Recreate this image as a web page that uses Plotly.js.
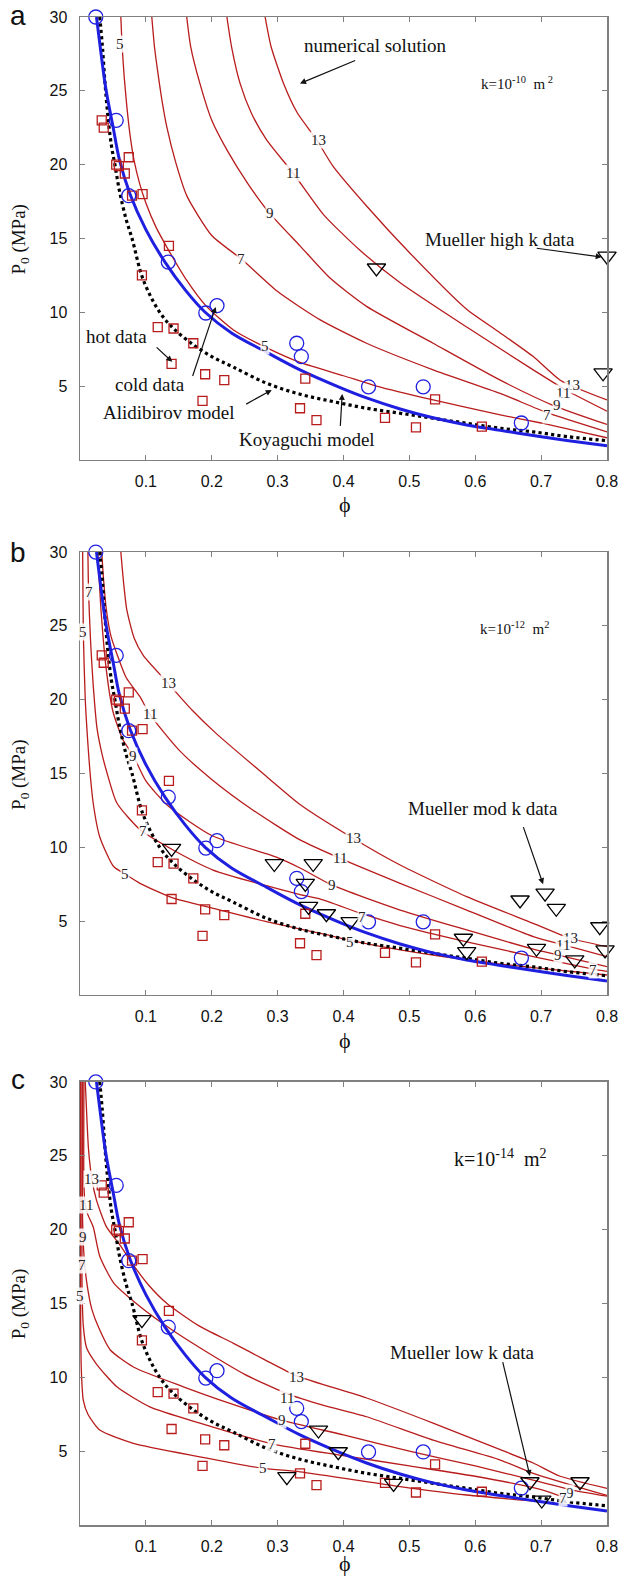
<!DOCTYPE html>
<html><head><meta charset="utf-8">
<script src="https://cdn.plot.ly/plotly-3.0.1.min.js"></script>
<style>body{margin:0;background:#fff}</style>
</head><body><div id="chart" style="width:622px;height:1582px"></div>
<script>
const xTicks = [0.1,0.2,0.3,0.4,0.5,0.6,0.7,0.8];
const xTickText = ['0.1','0.2','0.3','0.4','0.5','0.6','0.7','0.8'];
const yTicks = [5,10,15,20,25,30];

// hot data (squares) - same in all panels
const hotPhi = [0.033,0.036,0.055,0.059,0.074,0.068,0.079,0.095,0.135,0.094,0.118,0.142,0.172,0.139,0.190,0.219,0.186,0.342,0.334,0.359,0.463,0.510,0.539,0.610,0.801];
const hotP   = [23.0,22.5,20.0,19.9,20.5,19.4,17.9,18.0,14.5,12.5,9.0,8.9,7.9,6.5,5.8,5.4,4.0,5.5,3.5,2.7,2.85,2.2,4.1,2.25,1.75];
// cold data (circles)
const coldPhi = [0.024,0.055,0.074,0.134,0.191,0.208,0.329,0.336,0.438,0.521,0.670];
const coldP   = [30.0,23.0,17.9,13.4,9.95,10.45,7.9,7.0,4.95,4.95,2.5];
// Koyaguchi model (blue)
const koyaPhi = [0.025,0.032,0.038,0.043,0.05,0.06,0.076,0.1,0.129,0.16,0.19,0.23,0.283,0.334,0.395,0.435,0.486,0.536,0.587,0.638,0.688,0.739,0.8];
const koyaP   = [30,27.5,25.5,24.2,22.6,20.3,18.0,15.6,13.4,11.5,10.0,8.6,7.3,6.1,4.9,4.2,3.45,2.85,2.37,2.0,1.65,1.32,0.95];
// Alidibirov model (dotted)
const alidPhi = [0.030,0.034,0.038,0.043,0.048,0.053,0.060,0.070,0.079,0.096,0.121,0.142,0.172,0.200,0.232,0.283,0.334,0.384,0.435,0.486,0.536,0.587,0.638,0.688,0.739,0.8];
const alidP   = [30,28,25.5,23,21.2,20,18.2,16.3,15,12.2,10,8.9,7.8,7.0,6.3,5.2,4.45,3.95,3.5,3.16,2.82,2.48,2.14,1.9,1.58,1.3];

// Mueller data (triangles)
const muelHighPhi = [0.45,0.80,0.794];
const muelHighP   = [13.0,13.8,5.9];
const muelModPhi = [0.139,0.295,0.354,0.342,0.347,0.374,0.41,0.582,0.587,0.668,0.706,0.723,0.693,0.751,0.789,0.797];
const muelModP   = [9.93,8.9,8.9,7.56,6.0,5.5,4.96,3.84,2.93,6.43,6.89,5.87,3.16,2.37,4.62,3.05];
const muelLowPhi = [0.094,0.314,0.362,0.392,0.476,0.683,0.701,0.759];
const muelLowP   = [13.9,3.27,6.43,4.96,2.82,2.93,1.69,2.93];

// panel a numerical solution (k=1e-10)
const a5x = [0.062,0.064,0.067,0.071,0.076,0.082,0.09,0.1,0.115,0.132,0.16,0.192,0.233,0.283,0.334,0.4,0.45,0.536,0.638,0.7,0.75,0.8];
const a5y = [30,28,26,24,22,20.3,18.8,17.4,15.8,14.4,12.3,10.4,8.8,7.6,6.6,5.7,5.0,4.06,3.05,2.5,2.0,1.5];
const a7x = [0.109,0.113,0.118,0.125,0.132,0.145,0.162,0.2,0.245,0.3,0.364,0.435,0.536,0.638,0.709,0.8];
const a7y = [30,28,26.3,24.2,22.5,20.2,17.9,15.2,13.6,11.4,9.5,7.9,6.1,4.5,3.2,1.9];
const a9x = [0.162,0.168,0.182,0.2,0.223,0.255,0.288,0.334,0.38,0.435,0.536,0.638,0.718,0.8];
const a9y = [30,28,25.5,23,21.0,18.7,16.7,14.5,12.3,10.4,7.9,5.4,3.7,2.4];
const a11x = [0.223,0.23,0.243,0.26,0.283,0.324,0.37,0.425,0.486,0.587,0.688,0.739,0.8];
const a11y = [30,28,25.5,23.5,21.7,19.4,16.6,14.2,12.0,9.0,6.1,4.7,3.3];
const a13x = [0.281,0.29,0.309,0.33,0.359,0.384,0.435,0.501,0.587,0.638,0.688,0.729,0.8];
const a13y = [30,28,25.5,23.5,21.7,19.9,17.2,14.0,10.2,8.6,7.0,5.4,4.06];
// panel b numerical solution (k=1e-12)
const b5x = [0.004,0.005,0.008,0.012,0.015,0.02,0.03,0.051,0.068,0.091,0.142,0.202,0.283,0.364,0.41,0.486,0.587,0.688,0.8];
const b5y = [30,24.6,20,17,15.2,13,10.7,8.7,8.2,7.56,6.55,5.87,4.96,4.18,3.7,3.05,2.37,1.85,1.35];
const b7x = [0.012,0.013,0.016,0.02,0.026,0.033,0.040,0.056,0.091,0.142,0.202,0.283,0.334,0.364,0.428,0.486,0.587,0.688,0.779,0.8];
const b7y = [30,27.3,24,21,18,16.4,15.2,13,11.2,9.8,8.46,7.4,6.8,6.5,5.5,4.7,3.6,2.6,1.75,1.6];
const b9x = [0.027,0.032,0.04,0.05,0.065,0.081,0.1,0.134,0.2,0.3,0.334,0.382,0.486,0.587,0.688,0.726,0.8];
const b9y = [30,26,22,19.2,17.3,16.2,14.5,12.8,10.8,9.3,8.6,7.45,5.75,4.4,3.1,2.7,1.92];
const b11x = [0.033,0.036,0.040,0.047,0.056,0.07,0.091,0.106,0.15,0.2,0.26,0.334,0.395,0.486,0.587,0.688,0.733,0.8];
const b11y = [30,28,26.1,24.3,23.1,21.5,20.2,19.0,16.6,14.6,12.6,10.5,9.25,7.56,5.75,3.95,3.4,2.6];
const b13x = [0.062,0.066,0.071,0.082,0.096,0.134,0.17,0.207,0.283,0.334,0.415,0.486,0.587,0.688,0.744,0.8];
const b13y = [30,28,26.1,24.2,23.0,21.1,19.3,17.7,14.8,12.9,10.6,8.8,6.66,4.85,3.84,3.27];
// panel c numerical solution (k=1e-14)
const c5x = [0.001,0.001,0.002,0.005,0.012,0.03,0.081,0.182,0.278,0.334,0.486,0.587,0.72];
const c5y = [30,14,10.5,8.46,7.5,6.43,5.53,4.62,3.84,3.6,2.6,2.03,1.5];
const c7x = [0.003,0.003,0.005,0.01,0.025,0.056,0.106,0.182,0.291,0.4,0.5,0.6,0.7,0.733];
const c7y = [30,16.5,13.5,12.0,10.9,9.36,8.0,6.9,5.5,4.7,4.0,3.3,2.4,1.9];
const c9x = [0.004,0.004,0.006,0.01,0.018,0.028,0.046,0.081,0.157,0.23,0.306,0.4,0.5,0.6,0.7,0.744,0.8];
const c9y = [30,20.5,18.3,16.5,14.6,13.4,11.85,10.7,9.36,8.2,7.1,6.1,5.0,4.0,2.9,2.4,1.95];
const c11x = [0.006,0.006,0.008,0.012,0.02,0.03,0.051,0.091,0.14,0.182,0.25,0.314,0.37,0.435,0.536,0.638,0.688,0.8];
const c11y = [30,23,21.7,21.0,20.2,18.2,16.4,14.8,13.2,12.0,10.2,8.9,8.1,7.33,5.75,4.4,3.5,2.0];
const c13x = [0.008,0.011,0.013,0.018,0.025,0.04,0.06,0.081,0.105,0.132,0.18,0.233,0.28,0.329,0.435,0.536,0.638,0.688,0.729,0.8];
const c13y = [30,27,25.4,23.4,22,20.2,19.0,17.6,16.2,15.0,13.5,12.3,11.2,10.1,8.6,6.9,5.1,4.2,3.3,2.48];

// contour labels
const aLabX = [0.061,0.245,0.288,0.324,0.362,0.281,0.748,0.733,0.724,0.709];
const aLabY = [28.2,13.6,16.7,19.4,21.7,7.7,5.1,4.5,3.7,3.05];
const aLabT = ['5','7','9','11','13','5','13','11','9','7'];
const bLabX = [0.013,0.005,0.134,0.106,0.081,0.096,0.068,0.415,0.395,0.382,0.428,0.41,0.744,0.733,0.726,0.779];
const bLabY = [27.3,24.6,21.1,19.0,16.2,11.1,8.2,10.6,9.25,7.45,5.3,3.6,3.84,3.4,2.7,1.69];
const bLabT = ['7','5','13','11','9','7','5','13','11','9','7','5','13','11','9','7'];
const cLabX = [0.018,0.009,0.004,0.003,0.0,0.329,0.314,0.306,0.291,0.278,0.744,0.733];
const cLabY = [23.4,21.7,19.5,17.6,15.5,10.0,8.6,7.1,5.5,3.84,2.2,1.8];
const cLabT = ['13','11','9','7','5','13','11','9','7','5','9','7'];

const RED = '#b81c1c', BLUE = '#1f1fe0';
const suffix = ['', '2', '3'];
const traces = [];
function curve(x, y, p) {
  traces.push({x: x, y: y, xaxis: 'x' + suffix[p], yaxis: 'y' + suffix[p], mode: 'lines',
    line: {color: RED, width: 1.3, shape: 'spline', smoothing: 0.6}, hoverinfo: 'skip', showlegend: false});
}
[[a5x,a5y],[a7x,a7y],[a9x,a9y],[a11x,a11y],[a13x,a13y]].forEach(c => curve(c[0], c[1], 0));
[[b5x,b5y],[b7x,b7y],[b9x,b9y],[b11x,b11y],[b13x,b13y]].forEach(c => curve(c[0], c[1], 1));
[[c5x,c5y],[c7x,c7y],[c9x,c9y],[c11x,c11y],[c13x,c13y]].forEach(c => curve(c[0], c[1], 2));

const muel = [[muelHighPhi, muelHighP], [muelModPhi, muelModP], [muelLowPhi, muelLowP]];
for (let p = 0; p < 3; p++) {
  const xa = 'x' + suffix[p], ya = 'y' + suffix[p];
  traces.push({x: alidPhi, y: alidP, xaxis: xa, yaxis: ya, mode: 'lines', line: {color: '#000', width: 3.2, dash: 'dot', shape: 'spline'}, showlegend: false});
  traces.push({x: koyaPhi, y: koyaP, xaxis: xa, yaxis: ya, mode: 'lines', line: {color: BLUE, width: 3, shape: 'spline'}, showlegend: false});
  traces.push({x: hotPhi, y: hotP, xaxis: xa, yaxis: ya, mode: 'markers', marker: {symbol: 'square-open', size: 9, color: RED, line: {width: 1.3}}, showlegend: false, cliponaxis: false});
  traces.push({x: coldPhi, y: coldP, xaxis: xa, yaxis: ya, mode: 'markers', marker: {symbol: 'circle-open', size: 14, color: BLUE, line: {width: 1.3}}, showlegend: false, cliponaxis: false});
  traces.push({x: muel[p][0], y: muel[p][1], xaxis: xa, yaxis: ya, mode: 'markers', marker: {symbol: 'triangle-down-open', size: 16, color: '#000', line: {width: 1.3}}, showlegend: false, cliponaxis: false});
}

const TIMES = 'Liberation Serif, Times New Roman, serif';
const ARIAL = 'Liberation Sans, Arial, sans-serif';
const ann = [];
function labels(xs, ys, ts, p) {
  for (let i = 0; i < xs.length; i++) {
    ann.push({x: xs[i], y: ys[i], xref: 'x' + suffix[p], yref: 'y' + suffix[p], text: ts[i], showarrow: false,
      xanchor: 'center', yanchor: 'middle',
      font: {family: TIMES, size: 15, color: '#222'}, bgcolor: 'rgba(255,255,255,0.85)', borderpad: 0});
  }
}
labels(aLabX, aLabY, aLabT, 0);
labels(bLabX, bLabY, bLabT, 1);
labels(cLabX, cLabY, cLabT, 2);

function txt(t, x, y, p, size) {
  ann.push({x: x, y: y, xref: 'x' + suffix[p], yref: 'y' + suffix[p], text: t, showarrow: false,
    xanchor: 'center', yanchor: 'middle', font: {family: TIMES, size: size || 19, color: '#111'}});
}
function arrow(x0, y0, x1, y1, p) {
  ann.push({x: x1, y: y1, ax: x0, ay: y0, xref: 'x' + suffix[p], yref: 'y' + suffix[p], axref: 'x' + suffix[p], ayref: 'y' + suffix[p],
    text: ' ', showarrow: true, arrowhead: 2, arrowsize: 1, arrowwidth: 1.2, arrowcolor: '#111', standoff: 0, font: {size: 1}});
}
// panel a
txt('numerical solution', 0.448, 28.1, 0);
arrow(0.420, 27.1, 0.334, 25.5, 0);
txt('k=10<sup>-10</sup>  m<sup> 2</sup>', 0.663, 25.5, 0, 15);
txt('Mueller high k data', 0.638, 14.9, 0);
arrow(0.691, 14.35, 0.792, 13.74, 0);
txt('hot data', 0.056, 8.33, 0);
arrow(0.114, 7.72, 0.140, 6.64, 0);
txt('cold data', 0.106, 5.08, 0);
arrow(0.170, 5.55, 0.206, 10.36, 0);
txt('Alidibirov model', 0.134, 3.18, 0);
arrow(0.250, 3.72, 0.291, 4.74, 0);
txt('Koyaguchi model', 0.345, 1.35, 0);
arrow(0.395, 2.17, 0.398, 4.47, 0);
// panel b
txt('k=10<sup>-12</sup>  m<sup>2</sup>', 0.660, 24.85, 1, 15);
txt('Mueller mod k data', 0.612, 12.66, 1);
arrow(0.672, 11.5, 0.703, 7.5, 1);
// panel c
txt('k=10<sup>-14</sup>  m<sup>2</sup>', 0.638, 24.85, 2, 20);
txt('Mueller low k data', 0.581, 11.65, 2);
arrow(0.641, 11.17, 0.683, 3.32, 2);

// axis titles & panel letters
const panelLetters = ['a', 'b', 'c'];
const letterY = [1.0007, 0.6452, 0.2951];
const yTitleY = [0.853, 0.498, 0.147];
const phiY = [0.6764, 0.3216, -0.0252];
for (let p = 0; p < 3; p++) {
  ann.push({xref: 'paper', yref: 'paper', x: -0.1176, y: letterY[p], xanchor: 'center', yanchor: 'middle', text: panelLetters[p], showarrow: false,
    font: {family: ARIAL, size: 28, color: '#111'}});
  ann.push({xref: 'paper', yref: 'paper', x: -0.114, y: yTitleY[p], xanchor: 'center', yanchor: 'middle', text: 'P<sub>0</sub> (MPa)', textangle: -90, showarrow: false,
    font: {family: TIMES, size: 19, color: '#111'}});
  ann.push({xref: 'paper', yref: 'paper', x: 0.503, y: phiY[p], xanchor: 'center', yanchor: 'middle', text: 'ϕ', showarrow: false,
    font: {family: TIMES, size: 22, color: '#111'}});
}

const domains = [[0.7063, 1], [0.3515, 0.6452], [0, 0.2938]];
const layout = {
  width: 622, height: 1582, paper_bgcolor: '#fff', plot_bgcolor: '#fff',
  margin: {l: 80, r: 15, t: 17, b: 57}, showlegend: false, annotations: ann
};
for (let p = 0; p < 3; p++) {
  const common = {showline: true, linecolor: '#808080', linewidth: 1.5, mirror: 'ticks', ticks: 'inside', ticklen: 5,
    tickcolor: '#808080', showgrid: false, zeroline: false, tickfont: {family: ARIAL, size: 16, color: '#111'}};
  layout['xaxis' + suffix[p]] = Object.assign({}, common, {range: [0, 0.8], anchor: 'y' + suffix[p], domain: [0, 1],
    tickvals: xTicks, ticktext: xTickText, ticklabelstandoff: 6});
  layout['yaxis' + suffix[p]] = Object.assign({}, common, {range: [0, 30], anchor: 'x' + suffix[p], domain: domains[p],
    tickvals: yTicks, ticklabelstandoff: 8});
}
Plotly.newPlot('chart', traces, layout, {staticPlot: true});
</script></body></html>
